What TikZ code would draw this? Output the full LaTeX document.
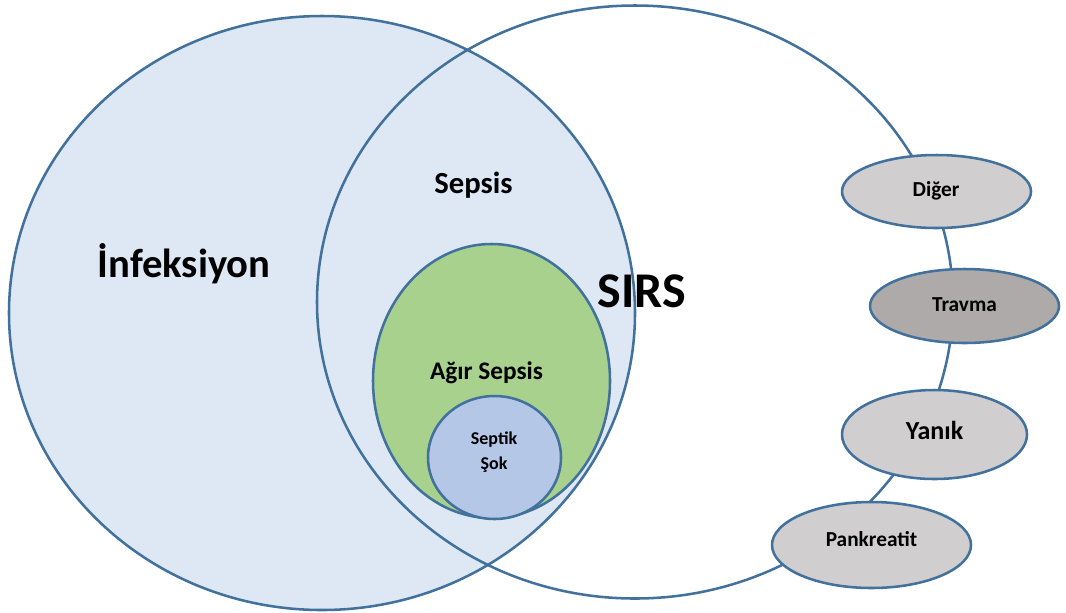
\documentclass[tikz,border=0pt]{standalone}
\usepackage{fontspec}
\setmainfont{Carlito}
\usetikzlibrary{shapes.geometric}
\definecolor{rim}{HTML}{41719C}
\definecolor{infblue}{HTML}{DDE8F4}
\definecolor{agirgreen}{HTML}{A9D18E}
\definecolor{sokblue}{HTML}{B4C7E7}
\definecolor{causegray}{HTML}{D0CECE}
\definecolor{travgray}{HTML}{AEAAAA}
\def\px{0.75pt}
\newcommand{\fs}[2]{\fontsize{#1}{#2}\selectfont}
\begin{document}
\begin{tikzpicture}[x=\px, y=-\px, line join=round, line cap=round,
    set/.style={ellipse, draw=rim, line width=1.9pt, inner sep=0pt, outer sep=0pt},
    cause/.style={set, fill=causegray, font=\bfseries\fs{16}{18}},
    lbl/.style={anchor=base, inner sep=0pt, font=\bfseries}]
    \useasboundingbox (0,0) rectangle (1066,612);
    % the two big sets
    \node[set, fill=infblue, minimum width=626*\px, minimum height=594*\px] (inf) at (322,313) {};
    \node[set, minimum width=636*\px, minimum height=593*\px] (sirs) at (635,302) {};
    \node[set, fill=agirgreen, minimum width=237*\px, minimum height=274*\px] (agir) at (491.5,381) {};
    \node[set, fill=sokblue, minimum width=133*\px, minimum height=123*\px] (sok) at (494.5,457.5) {};
    % causes on the SIRS rim
    \node[cause, minimum width=189*\px, minimum height=73*\px] (diger) at (936.5,191.5) {};
    \node[cause, fill=travgray, minimum width=189*\px, minimum height=74*\px] (travma) at (964.5,306) {};
    \node[cause, minimum width=185*\px, minimum height=89*\px] (yanik) at (934.5,434.5) {};
    \node[cause, minimum width=199*\px, minimum height=86*\px] (pank) at (871.5,545) {};
    % labels
    \node[lbl, font=\bfseries\fs{30.5}{34}] (inftext) at (184,277) {İnfeksiyon};
    \node[lbl, font=\bfseries\fs{23}{26}] (sepsistext) at (473.5,193) {Sepsis};
    \node[lbl, font=\bfseries\fs{37.5}{40}] (sirstext) at (642,307) {SIRS};
    \node[lbl, font=\bfseries\fs{19}{22}] (agirtext) at (486.5,379) {Ağır Sepsis};
    \node[inner sep=0pt, align=center, font=\bfseries\fs{13.5}{18.75}] (soktext) at (494,452) {Septik\\Şok};
    \node[lbl, font=\bfseries\fs{16}{18}] at (936,196) {Diğer};
    \node[lbl, font=\bfseries\fs{16}{18}] at (964.5,311) {Travma};
    \node[lbl, font=\bfseries\fs{19.5}{22}] at (934.5,439) {Yanık};
    \node[lbl, font=\bfseries\fs{16}{18}] at (871.5,546) {Pankreatit};
\end{tikzpicture}
\end{document}
